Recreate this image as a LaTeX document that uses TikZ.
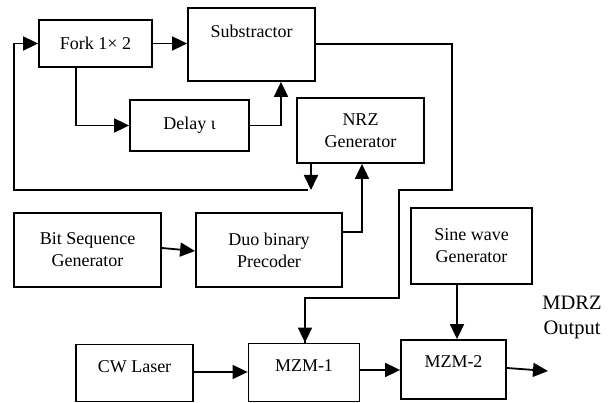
\documentclass[tikz,border=0pt]{standalone}
\usepackage{fontspec}
\setmainfont{Liberation Serif}
\newfontfamily\tnr{Liberation Serif}
\usetikzlibrary{arrows.meta}
\begin{document}
\begin{tikzpicture}[x=1pt,y=-1pt,
  blk/.style={draw,line width=1.8pt,inner sep=0pt,align=center,font=\tnr\fontsize{18}{22}\selectfont},
  txt/.style={inner sep=0pt,align=center,font=\tnr\fontsize{18}{22}\selectfont},
  conn/.style={line width=1.8pt},
  arr/.style={line width=1.8pt,-{Triangle[length=15pt,width=14pt]}}]
\useasboundingbox (0,0) rectangle (611,403);
% blocks
\node[blk,minimum width=113,minimum height=47] (fork) at (95.5,43.5) {Fork 1× 2};
\node[blk,minimum width=127,minimum height=73] (sub) at (251.5,44.5) {};
\node[txt] (subt) at (251.5,31) {Substractor};
\node[blk,minimum width=119,minimum height=51] (delay) at (189.5,125.5) {Delay ɩ};
\node[blk,minimum width=127,minimum height=65] (nrz) at (360.5,130.5) {NRZ\\Generator};
\node[blk,minimum width=147,minimum height=74] (bit) at (87.5,250) {Bit Sequence\\Generator};
\node[blk,minimum width=146,minimum height=74] (pre) at (269,250) {Duo binary\\Precoder};
\node[blk,minimum width=121,minimum height=76] (sine) at (471.5,246) {Sine wave\\Generator};
\node[blk,minimum width=117,minimum height=57] (cw) at (134.5,373) {};
\node[txt] (cwt) at (134.5,367) {CW Laser};
\node[blk,minimum width=111,minimum height=58] (mzm1) at (304,372.5) {};
\node[txt] (mzm1t) at (304,366) {MZM-1};
\node[blk,minimum width=105,minimum height=59] (mzm2) at (453.5,369.5) {};
\node[txt] (mzm2t) at (453.5,362) {MZM-2};
\node[txt,font=\tnr\fontsize{20.5}{25}\selectfont] (out) at (572,317) {MDRZ\\Output};
\coordinate (outend) at (548,371);
\coordinate (loopend) at (308,190);
% connectors
\draw[arr] (fork.east) -- (sub.west |- fork.east);
\draw[arr] (fork.south -| 76,0) |- (delay.west);
\draw[arr] (delay.east) -| (281,0 |- sub.south);
\draw[arr] (nrz.south -| 311,0) -- (311,190);
\draw[arr] (loopend) -- (14,190) |- (fork.west);
\draw[arr] (pre.east |- 0,232) -| (362,0 |- nrz.south);
\draw[conn] (sub.east |- 0,44) -| (452,190) -| (399,298) -| (mzm1.north -| 305,0);
\draw[arr] (305,298) -- (mzm1.north -| 305,0);
\draw[arr] (bit.east |- 0,248) -- (pre.west |- 0,251);
\draw[arr] (cw.east |- 0,372) -- (mzm1.west |- 0,372);
\draw[arr] (mzm1.east |- 0,370) -- (mzm2.west |- 0,370);
\draw[arr] (sine.south -| 457,0) -- (mzm2.north -| 457,0);
\draw[arr] (mzm2.east |- 0,368) -- (outend);
\end{tikzpicture}
\end{document}
